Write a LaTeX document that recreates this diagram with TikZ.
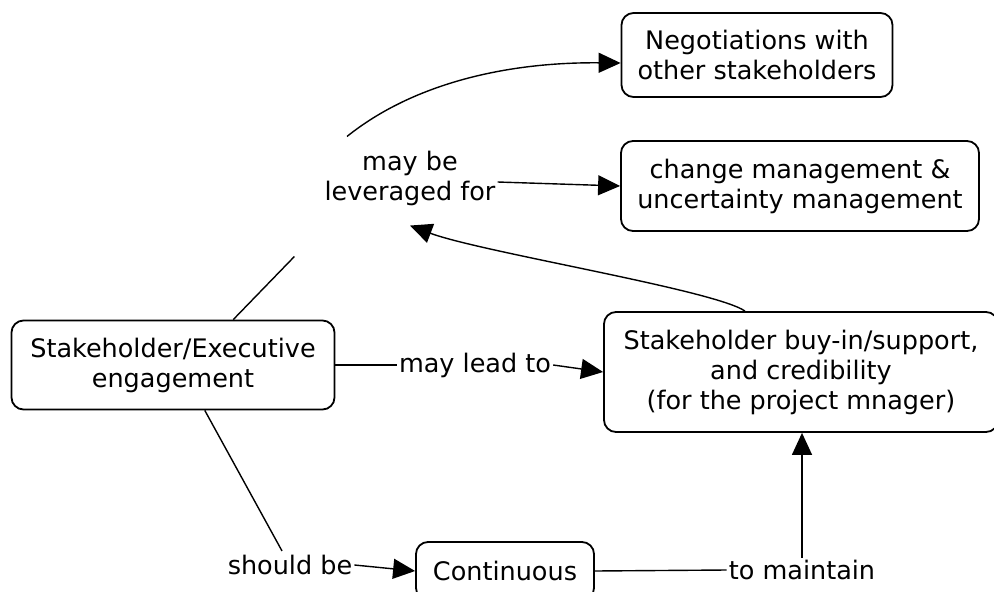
\documentclass[tikz,border=0pt]{standalone}
\usepackage{fontspec}
\setmainfont{DejaVu Sans}
\usetikzlibrary{shapes, arrows.meta, positioning, calc}

\begin{document}
\begin{tikzpicture}[x=1pt, y=-1pt,
		concept/.style={draw, rounded corners=12pt, line width=1.8pt, align=center, font=\fontsize{25.5}{30}\selectfont, inner sep=0pt},
		linking/.style={align=center, font=\fontsize{25.5}{30}\selectfont, inner sep=2pt},
		con/.style={line width=1.4pt},
		arr/.style={con, -{Triangle[length=22pt,width=20pt]}}]
	\useasboundingbox (0,0) rectangle (994,592);
	% concepts
	\node[concept, minimum width=271pt, minimum height=84pt] (nego) at (757,55) {Negotiations with\\other stakeholders};
	\node[concept, minimum width=358pt, minimum height=90pt] (change) at (800,186) {change management \&\\uncertainty management};
	\node[concept, minimum width=323pt, minimum height=89pt] (eng) at (173,365) {Stakeholder/Executive\\engagement};
	\node[concept, minimum width=394pt, minimum height=120pt] (buy) at (801,372) {Stakeholder buy-in/support,\\and credibility\\(for the project mnager)};
	\node[concept, minimum width=178pt, minimum height=58pt] (cont) at (505,571) {Continuous};
	% linking phrases
	\node[linking] (lev) at (410,178) {may be\\leveraged for};
	\node[linking] (mlt) at (475,365) {may lead to};
	\node[linking] (sb) at (290,565) {should be};
	\node[linking] (tm) at (802,570) {to maintain};
	% connectors
	\draw[con] (eng.37) -- ($(lev.south west)+(-28,49)$);
	\draw[arr] ($(lev.north)+(-63,-12)$) .. controls (415,82) and (510,62) .. ($(nego.west)+(0,8)$);
	\draw[arr] ($(lev.east)+(0,4)$) -- (change.west);
	\draw[arr] ($(buy.north)+(-56,0)$) .. controls (715,290) and (480,252) .. ($(lev.south)+(0,18)$);
	\draw[con] (eng.east) -- (mlt.west);
	\draw[arr] (mlt.east) -- (buy.west);
	\draw[con] (eng.-55) -- ($(sb.north)+(-8,-2)$);
	\draw[arr] (sb.east) -- (cont.west);
	\draw[con] (cont.east) -- (tm.west);
	\draw[arr] (tm.north) -- (tm.north |- buy.south);
\end{tikzpicture}
\end{document}
